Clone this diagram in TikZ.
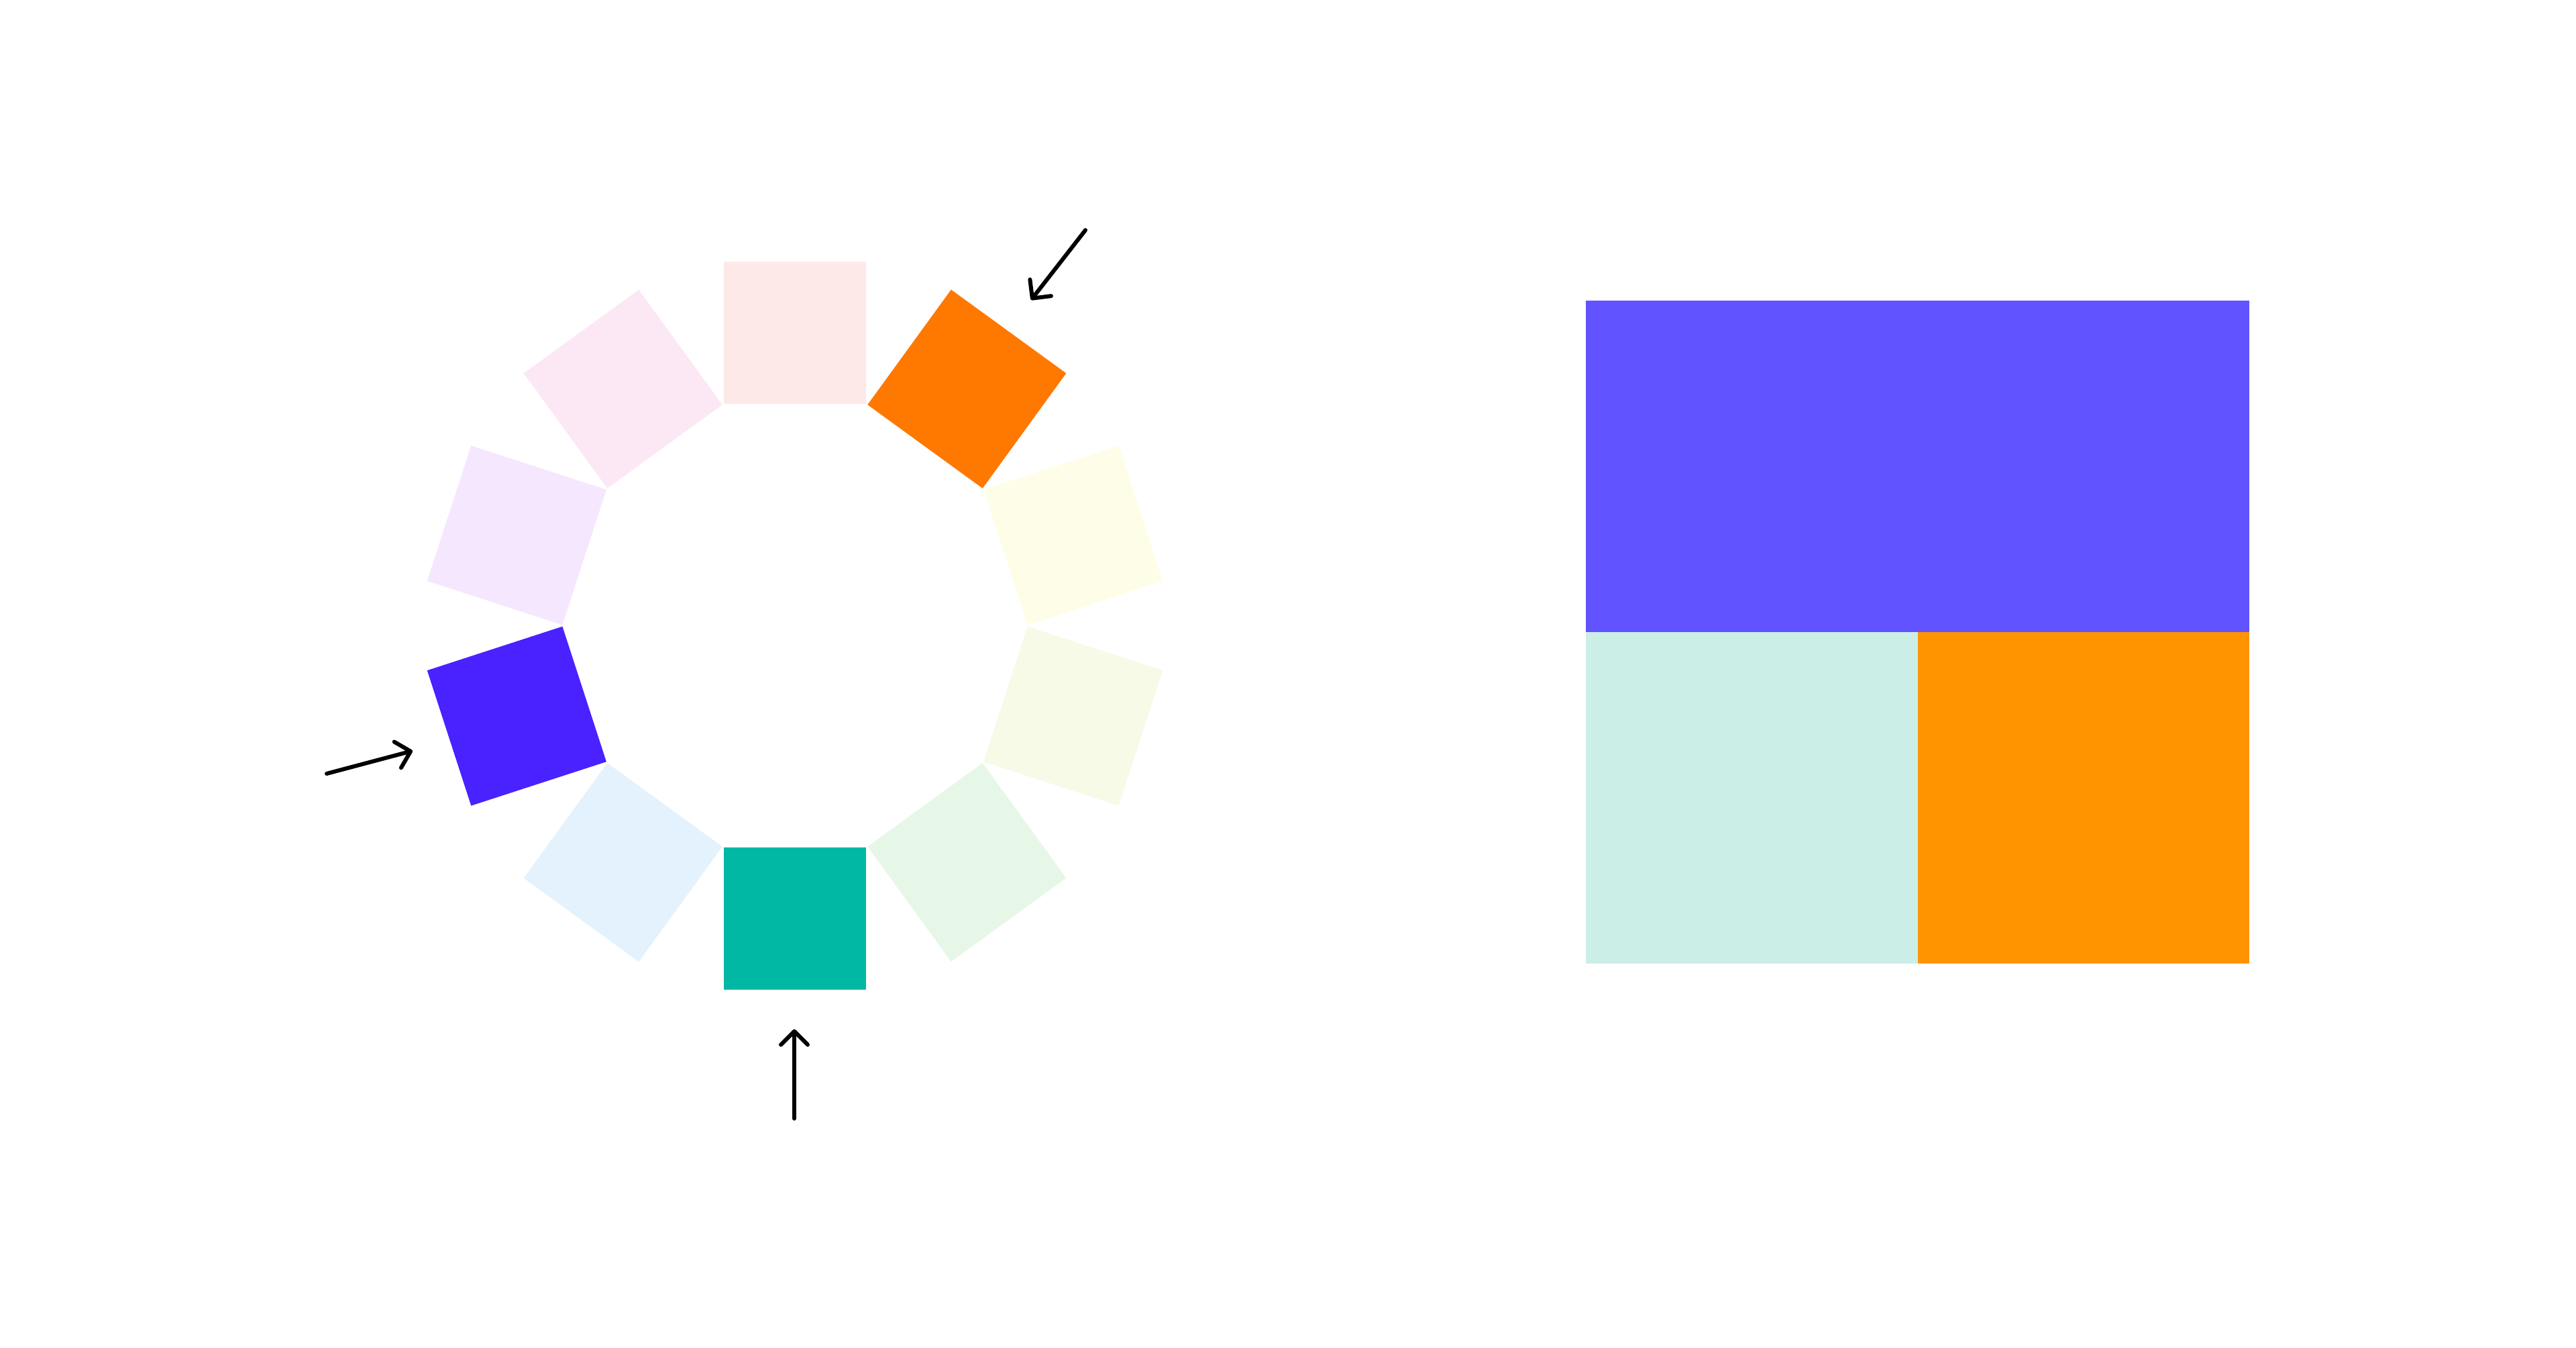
\documentclass[tikz,border=0pt]{standalone}
\usetikzlibrary{positioning,arrows.meta,calc}

\definecolor{tilerose}{HTML}{FDEAE8}
\definecolor{tileorange}{HTML}{FF7800}
\definecolor{tilecream}{HTML}{FEFDE7}
\definecolor{tilelime}{HTML}{F6FAE7}
\definecolor{tilemint}{HTML}{E7F7E7}
\definecolor{tileteal}{HTML}{00B8A3}
\definecolor{tilesky}{HTML}{E3F2FD}
\definecolor{tileviolet}{HTML}{4A21FF}
\definecolor{tilelilac}{HTML}{F5E7FD}
\definecolor{tilepink}{HTML}{FCE8F4}
\definecolor{blockviolet}{HTML}{6153FF}
\definecolor{blockmint}{HTML}{CBEEE7}
\definecolor{blockamber}{HTML}{FF9400}

\begin{document}
\begin{tikzpicture}

\def\side{2.12cm}
\def\rad{4.36cm}
\def\blockw{9.89cm}
\def\blockh{4.94cm}

\tikzset{tile/.style = {minimum size=\side, inner sep=0pt, outer sep=0pt}}
\tikzset{blk/.style = {minimum width=#1, minimum height=\blockh, inner sep=0pt, outer sep=0pt}}
\tikzset{pointer/.style = {-{Straight Barb[length=0.2cm,width=0.4cm,round]}, line width=0.06cm, line cap=round, line join=round}}

\useasboundingbox (0,0) rectangle (38.4,20.08);

% wheel
\coordinate (c) at (11.85,10.755);

\node[tile, fill=tilerose, rotate=0] (t90) at ($(c)+(90:\rad)$) {};
\node[tile, fill=tileorange, rotate=-36] (t54) at ($(c)+(54:\rad)$) {};
\node[tile, fill=tilecream, rotate=-72] (t18) at ($(c)+(18:\rad)$) {};
\node[tile, fill=tilelime, rotate=-108] (t342) at ($(c)+(-18:\rad)$) {};
\node[tile, fill=tilemint, rotate=-144] (t306) at ($(c)+(-54:\rad)$) {};
\node[tile, fill=tileteal, rotate=180] (t270) at ($(c)+(-90:\rad)$) {};
\node[tile, fill=tilesky, rotate=144] (t234) at ($(c)+(-126:\rad)$) {};
\node[tile, fill=tileviolet, rotate=108] (t198) at ($(c)+(-162:\rad)$) {};
\node[tile, fill=tilelilac, rotate=72] (t162) at ($(c)+(162:\rad)$) {};
\node[tile, fill=tilepink, rotate=36] (t126) at ($(c)+(126:\rad)$) {};

% pointers
\coordinate (p1s) at (16.18,16.65);
\coordinate (p1e) at (15.37,15.61);
\coordinate (p2s) at (4.87,8.55);
\coordinate (p2e) at (6.15,8.89);
\coordinate (p3s) at (11.84,3.41);
\coordinate (p3e) at (11.84,4.74);

\draw[pointer] (p1s) -- (p1e);
\draw[pointer] (p2s) -- (p2e);
\draw[pointer] (p3s) -- (p3e);

% blocks
\node[blk=\blockw, fill=blockviolet, anchor=north west] (top) at (23.64,15.60) {};
\node[blk=\blockw/2, fill=blockmint, anchor=north west] (bl) at (top.south west) {};
\node[blk=\blockw/2, fill=blockamber, right=0pt of bl] (br) {};

\end{tikzpicture}
\end{document}
